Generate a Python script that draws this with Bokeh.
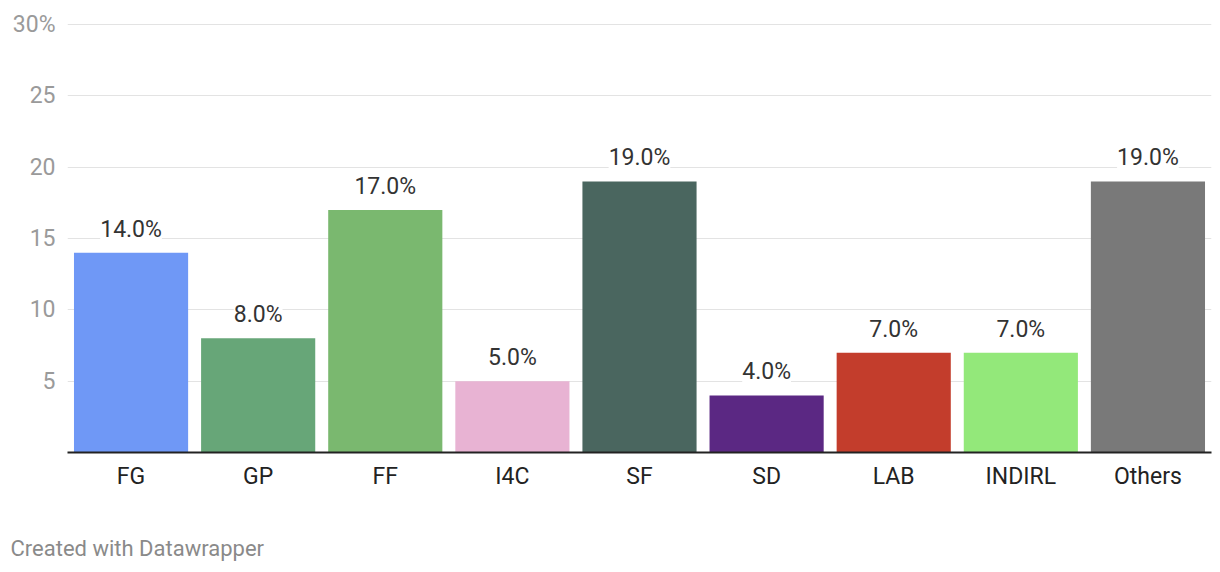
from bokeh.plotting import figure
from bokeh.models import ColumnDataSource, Range1d, FixedTicker, LabelSet, Title
from bokeh.core.properties import value
from bokeh.embed import file_html
from bokeh.resources import INLINE

categories = ["FG", "GP", "FF", "I4C", "SF", "SD", "LAB", "INDIRL", "Others"]
values = [14.0, 8.0, 17.0, 5.0, 19.0, 4.0, 7.0, 7.0, 19.0]
colors = ["#6f98f6", "#67a678", "#7ab86f", "#e8b3d3", "#4a665f",
          "#5b2883", "#c33d2c", "#93e87a", "#797979"]
y_ticks = [5, 10, 15, 20, 25, 30]
y_tick_labels = {5: "5", 10: "10", 15: "15", 20: "20", 25: "25", 30: "30%"}

labels = [f"{v:.1f}%" for v in values]
src = ColumnDataSource(dict(cat=categories, val=values, color=colors, label=labels))

FONT = "Roboto"

p = figure(x_range=categories, y_range=Range1d(0, 30.7),
           width=1212, height=570, output_backend="svg", toolbar_location=None,
           min_border_left=67, min_border_right=1, min_border_top=14, min_border_bottom=118)
p.outline_line_color = None
p.background_fill_color = "white"
p.border_fill_color = "white"
p.x_range.range_padding = 0.0

p.vbar(x="cat", top="val", width=0.898, color="color", source=src, line_color=None)

lbl = LabelSet(x="cat", y="val", text="label", source=src, text_align="center",
               text_baseline="bottom", y_offset=10, text_font=value(FONT),
               text_font_size=value("23px"), text_color=value("#333333"),
               background_fill_color="white", background_fill_alpha=1.0)
p.add_layout(lbl)

p.yaxis.ticker = FixedTicker(ticks=y_ticks)
p.yaxis.major_label_overrides = y_tick_labels
p.yaxis.axis_line_color = None
p.yaxis.major_tick_line_color = None
p.yaxis.minor_tick_line_color = None
p.yaxis.major_label_text_font = FONT
p.yaxis.major_label_text_font_size = "23px"
p.yaxis.major_label_text_color = "#9a9a9a"
p.yaxis.major_label_standoff = 6

p.ygrid.ticker = FixedTicker(ticks=y_ticks)
p.ygrid.grid_line_color = "#e3e3e3"
p.ygrid.grid_line_width = 1
p.xgrid.grid_line_color = None

p.xaxis.axis_line_color = "#222222"
p.xaxis.axis_line_width = 2
p.xaxis.major_tick_line_color = None
p.xaxis.minor_tick_line_color = None
p.xaxis.major_label_text_font = FONT
p.xaxis.major_label_text_font_size = "23px"
p.xaxis.major_label_text_color = "#222222"
p.xaxis.major_label_standoff = 4

spacer = Title(text=" ", text_font_size="1px", standoff=38)
p.add_layout(spacer, "below")

footer = Title(text="Created with Datawrapper", align="left", text_font=FONT,
               text_font_size="22px", text_font_style="normal", text_color="#8a8a8a",
               offset=-57, standoff=0)
p.add_layout(footer, "below")

open("out.html", "w").write(file_html(p, INLINE))
